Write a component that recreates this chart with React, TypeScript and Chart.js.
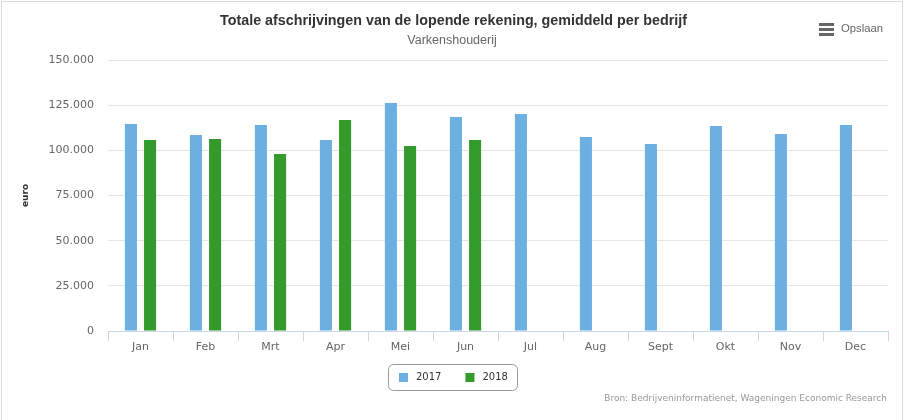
import React, { useEffect, useRef } from 'react';
import { Chart, registerables } from 'chart.js';

Chart.register(...registerables);

const categories = ['Jan', 'Feb', 'Mrt', 'Apr', 'Mei', 'Jun', 'Jul', 'Aug', 'Sept', 'Okt', 'Nov', 'Dec'];
const values2017 = [114600, 108500, 114000, 105700, 126200, 118400, 120100, 107400, 103500, 113500, 109000, 114000];
const values2018 = [105700, 106300, 98000, 116800, 102400, 105700, null, null, null, null, null, null];
const seriesLabels = ['2017', '2018'];
const seriesColors = ['#6cafe1', '#349a2c'];
const yMin = 0;
const yMax = 150000;
const yStep = 25000;

const titleText = 'Totale afschrijvingen van de lopende rekening, gemiddeld per bedrijf';
const subtitleText = 'Varkenshouderij';
const yAxisTitle = 'euro';
const creditsText = 'Bron: Bedrijveninformatienet, Wageningen Economic Research';
const exportText = 'Opslaan';

const fmt = (v: number) => String(v).replace(/\B(?=(\d{3})+(?!\d))/g, '.');

const boxLegend = {
  id: 'boxLegend',
  afterDraw(chart: any) {
    const ctx = chart.ctx as CanvasRenderingContext2D;
    const ds = chart.data.datasets;
    ctx.save();
    ctx.font = '10px "DejaVu Sans"';
    const sq = 9;
    const gapText = 8;
    const itemGap = 24;
    const padL = 11;
    const padR = 9;
    const widths = ds.map((d: any) => sq + gapText + ctx.measureText(d.label).width);
    const inner = widths.reduce((a: number, b: number) => a + b, 0) + itemGap * (ds.length - 1);
    const w = Math.round(inner + padL + padR);
    const h = 26;
    const x0 = Math.round(chart.width / 2 - w / 2) - 1;
    const y0 = 364;
    ctx.beginPath();
    ctx.strokeStyle = '#999999';
    ctx.lineWidth = 1;
    (ctx as any).roundRect(x0 + 0.5, y0 + 0.5, w, h, 5);
    ctx.stroke();
    let x = x0 + padL;
    const cy = y0 + h / 2 + 0.5;
    ds.forEach((d: any, i: number) => {
      ctx.fillStyle = d.backgroundColor;
      ctx.fillRect(x, Math.round(cy - sq / 2), sq, sq);
      ctx.fillStyle = '#333333';
      ctx.textBaseline = 'middle';
      ctx.textAlign = 'left';
      ctx.fillText(d.label, x + sq + gapText, cy);
      x += widths[i] + itemGap;
    });
    ctx.restore();
  },
};

export default function App() {
  const ref = useRef<HTMLCanvasElement | null>(null);

  useEffect(() => {
    if (!ref.current) return;
    const chart = new Chart(ref.current, {
      type: 'bar',
      data: {
        labels: categories,
        datasets: [
          {
            label: seriesLabels[0],
            data: values2017,
            backgroundColor: seriesColors[0],
            categoryPercentage: 0.59,
            barPercentage: 0.63,
          },
          {
            label: seriesLabels[1],
            data: values2018 as any,
            backgroundColor: seriesColors[1],
            categoryPercentage: 0.59,
            barPercentage: 0.63,
          },
        ],
      },
      options: {
        animation: false,
        responsive: false,
        maintainAspectRatio: false,
        events: [],
        layout: { padding: { top: 60, right: 18, bottom: 59, left: 0 } },
        plugins: {
          legend: { display: false },
          title: { display: false },
          tooltip: { enabled: false },
        },
        scales: {
          x: {
            afterFit: (s: any) => {
              s.height = 30;
            },
            grid: {
              display: true,
              drawOnChartArea: false,
              drawTicks: true,
              tickLength: 10,
              color: '#ccd6eb',
              offset: true,
            },
            border: { display: true, color: '#ccd6eb' },
            ticks: {
              color: '#666666',
              font: { family: '"DejaVu Sans"', size: 11 },
              padding: 0,
              maxRotation: 0,
            },
          },
          y: {
            min: yMin,
            max: yMax,
            afterFit: (s: any) => {
              s.width = 108;
            },
            grid: { color: '#e6e6e6', drawTicks: false },
            border: { display: false },
            ticks: {
              stepSize: yStep,
              color: '#666666',
              font: { family: '"DejaVu Sans"', size: 11 },
              padding: 14,
              callback: (v: any) => fmt(Number(v)),
            },
            title: {
              display: true,
              text: yAxisTitle,
              color: '#333333',
              font: { family: '"DejaVu Sans"', size: 9, weight: 'bold' },
              padding: { top: 20, bottom: 0 },
            },
          },
        },
      },
      plugins: [boxLegend],
    });
    return () => chart.destroy();
  }, []);

  return (
    <div
      style={{
        position: 'absolute',
        left: 0,
        top: 0,
        width: 906,
        height: 420,
        overflow: 'hidden',
        background: '#ffffff',
      }}
    >
      <div
        style={{
          position: 'absolute',
          left: 1,
          top: 1,
          width: 902,
          height: 440,
          boxSizing: 'border-box',
          border: '1px solid #d9d9d9',
        }}
      />
      <canvas ref={ref} width={906} height={420} style={{ position: 'absolute', left: 0, top: 0, width: 906, height: 420 }} />
      <div
        style={{
          position: 'absolute',
          left: 0,
          top: 12,
          width: 907,
          textAlign: 'center',
          font: 'bold 14.3px "Liberation Sans"',
          lineHeight: '17px',
          color: '#333333',
        }}
      >
        {titleText}
      </div>
      <div
        style={{
          position: 'absolute',
          left: 0,
          top: 32,
          width: 904,
          textAlign: 'center',
          font: '12.5px "Liberation Sans"',
          lineHeight: '16px',
          color: '#666666',
        }}
      >
        {subtitleText}
      </div>
      <div style={{ position: 'absolute', left: 819, top: 23, width: 15, height: 13 }}>
        <div style={{ position: 'absolute', left: 0, top: 0, width: 15, height: 3, background: '#666666' }} />
        <div style={{ position: 'absolute', left: 0, top: 5, width: 15, height: 3, background: '#666666' }} />
        <div style={{ position: 'absolute', left: 0, top: 10, width: 15, height: 3, background: '#666666' }} />
      </div>
      <div
        style={{
          position: 'absolute',
          left: 841,
          top: 21,
          font: '11.3px "Liberation Sans"',
          lineHeight: '14px',
          color: '#666666',
        }}
      >
        {exportText}
      </div>
      <div
        style={{
          position: 'absolute',
          right: 906 - 887,
          top: 391,
          font: '9px "DejaVu Sans"',
          lineHeight: '14px',
          color: '#999999',
          whiteSpace: 'nowrap',
        }}
      >
        {creditsText}
      </div>
    </div>
  );
}
